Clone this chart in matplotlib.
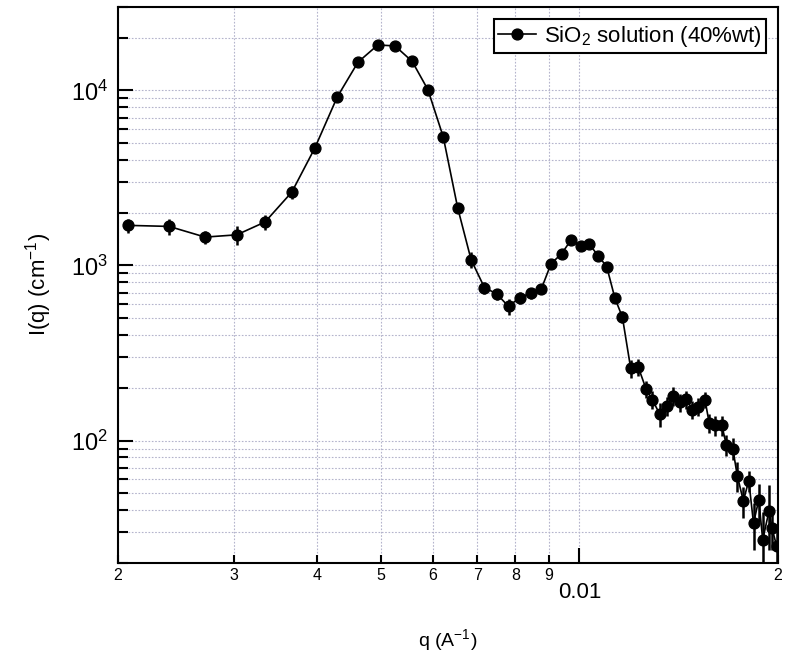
import matplotlib
matplotlib.use('Agg')
import matplotlib.pyplot as plt
from matplotlib.ticker import FixedLocator, FixedFormatter, LogLocator, NullFormatter

plt.rcParams['font.family'] = ['Liberation Sans', 'DejaVu Sans']
plt.rcParams['mathtext.fontset'] = 'custom'
plt.rcParams['mathtext.rm'] = 'Liberation Sans'
plt.rcParams['mathtext.it'] = 'Liberation Sans:italic'
plt.rcParams['mathtext.default'] = 'regular'

# q (1/A), intensity I(q) (1/cm), error on I
q = [0.002073, 0.00239, 0.00271, 0.003026, 0.00334, 0.003667, 0.003974, 0.004297,
     0.00462, 0.00495, 0.005256, 0.00558, 0.005896, 0.00622, 0.00654, 0.006854,
     0.00718, 0.0075, 0.00781, 0.00812, 0.00844, 0.00876, 0.00906, 0.0094,
     0.00972, 0.01005, 0.01036, 0.01068, 0.0110, 0.01132, 0.01162, 0.01196,
     0.01228, 0.01262, 0.0129, 0.01323, 0.01356, 0.01388, 0.0142, 0.01453,
     0.01484, 0.01512, 0.0155, 0.01573, 0.01608, 0.01644, 0.0167, 0.01708,
     0.01735, 0.01772, 0.01806, 0.01836, 0.0187, 0.01896, 0.01938, 0.01958,
     0.0199]
intensity = [1694, 1671, 1452, 1496, 1771, 2624, 4689, 9170,
             14500, 18170, 17950, 14650, 10090, 5420, 2138, 1079,
             748, 687, 583, 656, 695, 736, 1024, 1167,
             1403, 1298, 1319, 1135, 986, 651, 507, 259,
             263, 197, 171, 142, 158, 180, 165, 172,
             150, 156, 171, 126, 122, 122, 94.4, 90,
             63, 45.2, 59, 33.7, 45.8, 27.1, 39.6, 31.7,
             25]
error = [160, 170, 130, 180, 170, 220, 300, 400,
         500, 500, 500, 500, 400, 250, 150, 110,
         60, 50, 60, 50, 50, 50, 50, 50,
         50, 50, 50, 50, 50, 40, 40, 30,
         30, 22, 20, 22, 20, 22, 20, 20,
         18, 18, 18, 16, 16, 16, 13, 13,
         12, 9, 8, 10, 11, 12, 16, 8,
         8]

x_minor_ticks = [0.002, 0.003, 0.004, 0.005, 0.006, 0.007, 0.008, 0.009, 0.02]
x_minor_labels = ['2', '3', '4', '5', '6', '7', '8', '9', '2']
x_major_ticks = [0.01]
x_major_labels = ['0.01']

fig = plt.figure(figsize=(7.87, 6.53), dpi=100)
ax = fig.add_axes([0.150, 0.138, 0.8386, 0.8515])

ax.errorbar(q, intensity, yerr=error, fmt='none', ecolor='black',
            elinewidth=1.8, capsize=0, zorder=3)
ax.plot(q, intensity, '-o', color='black', lw=1.2, ms=7.8,
        label='SiO$_2$ solution (40%wt)', zorder=4)

ax.set_xscale('log')
ax.set_yscale('log')
ax.set_xlim(0.002, 0.02)
ax.set_ylim(20, 30000)

ax.xaxis.set_major_locator(FixedLocator(x_major_ticks))
ax.xaxis.set_major_formatter(FixedFormatter(x_major_labels))
ax.xaxis.set_minor_locator(FixedLocator(x_minor_ticks))
ax.xaxis.set_minor_formatter(FixedFormatter(x_minor_labels))
ax.yaxis.set_major_locator(LogLocator(base=10))
ax.yaxis.set_minor_locator(LogLocator(base=10, subs=range(2, 10)))
ax.yaxis.set_minor_formatter(NullFormatter())

ax.tick_params(axis='x', which='major', direction='in', length=11, width=1.5,
               labelsize=16, pad=14, top=False)
ax.tick_params(axis='x', which='minor', direction='in', length=6, width=1.5,
               labelsize=11.5, pad=4, top=False)
ax.tick_params(axis='y', which='major', direction='in', length=11, width=1.5,
               labelsize=17, pad=7, right=False)
ax.tick_params(axis='y', which='minor', direction='in', length=7, width=1.5,
               right=False)

for sp in ax.spines.values():
    sp.set_linewidth(1.5)

ax.grid(True, which='both', color='#b4b4cc', linestyle=(0, (1.5, 1.5)), linewidth=0.8)
ax.set_axisbelow(True)

ax.set_xlabel('q (A$^{-1}$)', fontsize=14)
ax.xaxis.set_label_coords(0.5, -0.115)
ax.set_ylabel('I(q) (cm$^{-1}$)', fontsize=16)
ax.yaxis.set_label_coords(-0.097, 0.5)

leg = ax.legend(loc='upper right', fontsize=16, fancybox=False, framealpha=1,
                edgecolor='black', handlelength=1.7, borderpad=0.2,
                handletextpad=0.35, borderaxespad=0.55)
leg.get_frame().set_linewidth(1.5)

fig.savefig('out.png', dpi=100)
